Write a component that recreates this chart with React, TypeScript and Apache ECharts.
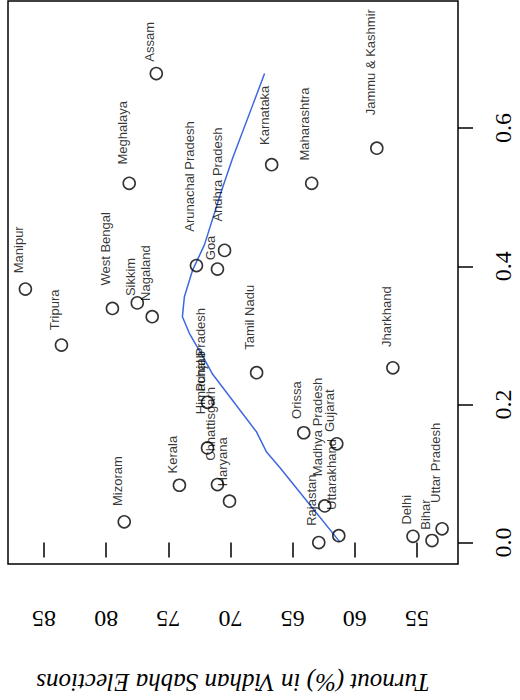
import React, { useEffect, useRef } from 'react';
import * as echarts from 'echarts';

// States (labels of the points)
const states: string[] = [
  'Manipur', 'Tripura', 'West Bengal', 'Sikkim', 'Nagaland', 'Meghalaya', 'Assam',
  'Arunachal Pradesh', 'Goa', 'Andhra Pradesh', 'Karnataka', 'Maharashtra', 'Jammu & Kashmir',
  'Tamil Nadu', 'Punjab', 'Himachal Pradesh', 'Chhattisgarh', 'Haryana', 'Kerala', 'Mizoram',
  'Orissa', 'Gujarat', 'Madhya Pradesh', 'Uttarakhand', 'Rajastan', 'Jharkhand', 'Delhi',
  'Bihar', 'Uttar Pradesh',
];

// Turnout (%) in Vidhan Sabha elections
const turnout: number[] = [
  86.5, 83.6, 79.5, 77.5, 76.3, 78.15, 75.97,
  72.74, 71.05, 70.48, 66.69, 63.47, 58.23,
  67.9, 71.85, 71.85, 71.05, 70.08, 74.11, 78.55,
  64.11, 61.45, 62.42, 61.29, 62.9, 56.94, 55.32,
  53.79, 52.98,
];

// Second variable (0 - 0.7)
const share: number[] = [
  0.367, 0.286, 0.339, 0.347, 0.327, 0.52, 0.679,
  0.401, 0.396, 0.423, 0.547, 0.52, 0.571,
  0.246, 0.203, 0.137, 0.084, 0.06, 0.083, 0.03,
  0.159, 0.143, 0.053, 0.01, 0.0, 0.253, 0.009,
  0.003, 0.02,
];

// Smoother line (share, turnout)
const smoothShare: number[] = [0.001, 0.091, 0.109, 0.131, 0.16, 0.244, 0.26, 0.303, 0.327, 0.356, 0.394, 0.431, 0.509, 0.556, 0.679];
const smoothTurnout: number[] = [61.21, 65.24, 66.05, 67.1, 67.9, 71.45, 71.94, 73.31, 73.87, 73.71, 73.06, 72.1, 70.73, 69.84, 67.26];

// Tick labels
const turnoutTicks: number[] = [55, 60, 65, 70, 75, 80, 85];
const shareTicks: number[] = [0, 0.2, 0.4, 0.6];

// label gap above each point (pixels, style)
const labelGap: number[] = [
  15, 14, 22, 6, 15, 18, 11,
  33, 8, 28, 19, 22, 32,
  22, 10, 33, 23, 14, 11, 15,
  13, 11, 29, 25, 16, 20, 11,
  10, 25,
];

export default function App() {
  const ref = useRef<HTMLDivElement>(null);
  useEffect(() => {
    if (!ref.current) return;
    const chart = echarts.init(ref.current, undefined, { renderer: 'svg' });
    const serif = '"Liberation Serif", "Times New Roman", serif';
    const sans = '"Liberation Sans", Arial, sans-serif';
    chart.setOption({
      animation: false,
      backgroundColor: '#fff',
      grid: {
        left: 8, right: 62, top: 1, bottom: 129,
        show: true, borderColor: '#000', borderWidth: 1.5, backgroundColor: 'transparent',
      },
      xAxis: {
        type: 'value', inverse: true, min: 51.7, max: 87.9,
        name: 'Turnout (%) in Vidhan Sabha Elections',
        nameLocation: 'middle', nameRotate: 180, nameGap: 106,
        nameTextStyle: { fontFamily: serif, fontStyle: 'italic', fontSize: 25, color: '#000' },
        axisLine: { show: false },
        splitLine: { show: false },
        axisTick: { show: true, inside: false, length: 15, customValues: turnoutTicks, lineStyle: { color: '#000', width: 1.5 } },
        axisLabel: {
          customValues: turnoutTicks, rotate: 180, margin: 43,
          fontFamily: serif, fontSize: 24, color: '#000',
        },
      },
      yAxis: {
        type: 'value', position: 'right', min: -0.031, max: 0.784,
        axisLine: { show: false },
        splitLine: { show: false },
        axisTick: { show: true, inside: false, length: 15, customValues: shareTicks, lineStyle: { color: '#000', width: 1.5 } },
        axisLabel: {
          customValues: shareTicks, rotate: 90, margin: 33,
          formatter: (v: number) => v.toFixed(1),
          fontFamily: serif, fontSize: 24, color: '#000',
        },
      },
      series: [
        {
          type: 'line',
          data: smoothTurnout.map((t, i) => [t, smoothShare[i]]),
          showSymbol: false,
          lineStyle: { color: '#3d68df', width: 1.5 },
          z: 1,
        },
        {
          type: 'scatter',
          symbol: 'circle',
          symbolSize: 12,
          itemStyle: { color: 'rgba(0,0,0,0)', borderColor: '#000', borderWidth: 1.6 },
          label: {
            show: true, formatter: '{b}', align: 'left', verticalAlign: 'middle',
            rotate: 90, fontFamily: sans, fontSize: 13, color: '#000',
          },
          labelLayout: { hideOverlap: false },
          data: states.map((s, i) => ({
            name: s,
            value: [turnout[i], share[i]],
            label: { position: [0, 6 - labelGap[i]] },
          })),
          z: 2,
        },
      ],
    });
    return () => chart.dispose();
  }, []);
  return <div ref={ref} style={{ position: 'fixed', left: 0, top: 0, width: 520, height: 700 }} />;
}
